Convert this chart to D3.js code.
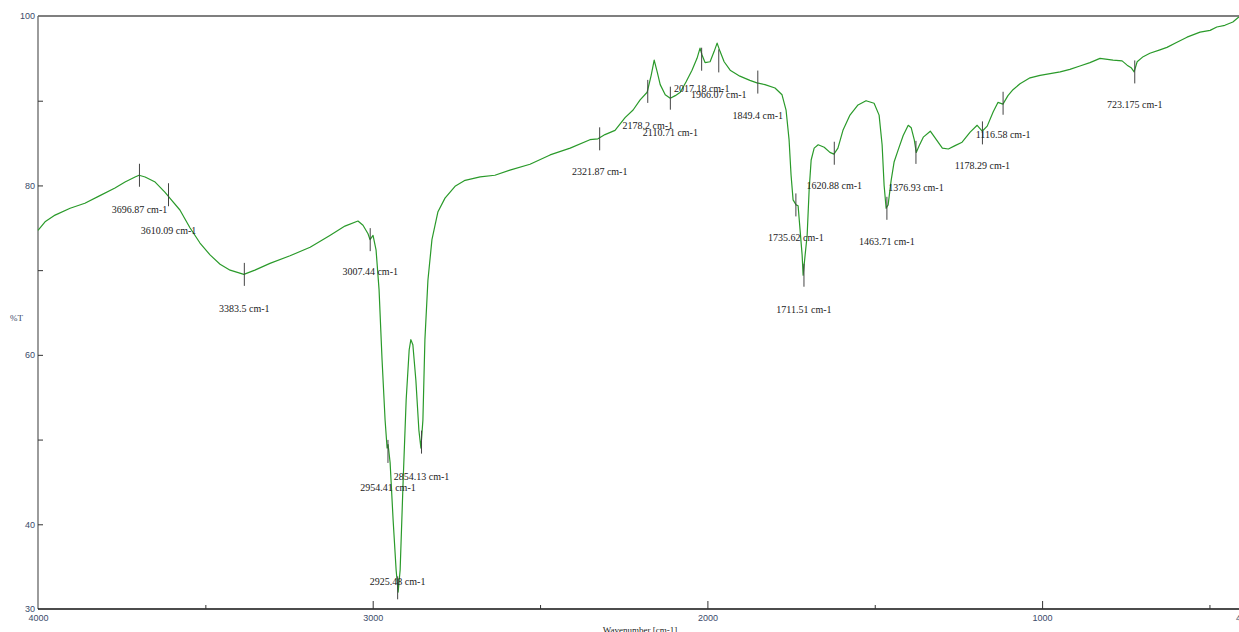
<!DOCTYPE html>
<html>
<head>
<meta charset="utf-8">
<script src="https://cdn.jsdelivr.net/npm/d3@7/dist/d3.min.js"></script>
<style>
  html, body { margin: 0; padding: 0; background: #fff; overflow: hidden; }
  svg { display: block; font-family: "Liberation Serif", "DejaVu Serif", serif; }
</style>
</head>
<body>
<svg id="chart" width="1239" height="632"></svg>
<script>
// FTIR spectrum: wavenumber (cm-1) and transmittance (%T)
const wavenumbers = [4000,3979,3949,3904,3860,3815,3770,3740,3710,3698,3680,3650,3621,3606,3576,3546,3516,3486,3456,3426,3385,3352,3307,3247,3187,3128,3083,3044,3029,3014,3008,2999,2990,2981,2972,2963,2957,2954,2948,2939,2930,2924,2918,2909,2900,2891,2886,2880,2871,2862,2856,2850,2844,2835,2823,2805,2784,2754,2724,2679,2635,2590,2530,2470,2410,2351,2327,2306,2276,2246,2222,2201,2180,2168,2159,2150,2141,2126,2111,2096,2081,2064,2046,2031,2022,2016,2007,1992,1980,1971,1962,1950,1932,1903,1873,1852,1828,1798,1777,1765,1756,1750,1744,1735,1729,1723,1717,1714,1708,1702,1696,1690,1681,1669,1651,1634,1622,1610,1595,1574,1550,1526,1502,1487,1478,1472,1466,1460,1451,1442,1430,1415,1400,1391,1382,1376,1367,1355,1334,1316,1298,1280,1260,1239,1215,1194,1179,1164,1146,1132,1117,1102,1087,1066,1036,1006,976,946,917,887,857,827,788,761,746,734,725,716,698,678,648,627,597,567,528,498,478,454,430,415,406];
const transmittance = [74.7,75.7,76.5,77.3,77.9,78.8,79.7,80.4,81.0,81.2,81.0,80.4,79.2,78.5,77.1,75.0,73.2,71.8,70.7,70.0,69.5,70.0,70.8,71.7,72.7,74.1,75.2,75.8,75.3,74.3,73.6,74.1,72.4,67.7,59.4,52.3,49.0,49.4,47.3,40.5,34.6,32.0,34.6,45.2,54.7,60.6,61.8,61.2,57.0,51.1,49.0,52.3,61.8,68.8,73.6,76.9,78.5,79.9,80.6,81.0,81.2,81.8,82.5,83.6,84.4,85.4,85.5,86.0,86.5,88.0,88.9,90.1,91.0,93.0,94.8,93.4,91.9,90.7,90.3,90.6,91.0,92.2,93.6,95.0,96.2,95.4,94.5,94.6,95.8,96.8,95.8,94.6,93.6,92.9,92.4,92.1,91.9,91.5,90.7,88.9,85.4,81.2,78.3,77.7,77.6,74.7,71.8,69.4,71.8,74.1,79.5,83.0,84.4,84.8,84.5,83.9,83.7,84.4,86.5,88.3,89.5,90.0,89.7,88.3,84.8,80.0,77.3,77.7,80.6,82.8,84.2,85.9,87.1,86.8,85.4,83.9,84.7,85.7,86.4,85.4,84.4,84.3,84.7,85.1,86.3,87.1,86.4,87.0,88.7,89.8,89.6,90.6,91.3,92.0,92.7,93.0,93.2,93.4,93.7,94.1,94.5,95.0,94.8,94.7,94.2,93.9,93.4,94.6,95.2,95.6,96.0,96.3,96.9,97.5,98.1,98.3,98.7,98.9,99.3,99.8,100.0];

// Picked peaks: position, %T at the pick, and %T where its label sits
const peakWavenumbers = [3696.87,3610.09,3383.5,3007.44,2954.41,2925.48,2854.13,2321.87,2178.2,2110.71,2017.18,1966.07,1849.4,1735.62,1711.51,1620.88,1463.71,1376.93,1178.29,1116.58,723.175];
const peakValues = [81.2,78.9,69.5,73.6,48.6,32.5,49.7,85.5,91.1,90.3,94.9,94.7,92.2,77.7,69.4,83.8,77.3,83.9,86.2,89.7,93.4];
const peakLabelLevels = [77.2,74.7,65.5,69.8,44.4,33.3,45.6,81.6,87.1,86.3,91.4,90.7,88.3,73.8,65.3,80.0,73.4,79.7,82.3,86.0,89.5];

// Axis ticks
const xMajorTicks = [4000,3000,2000,1000,400];
const xMinorTicks = [3500,2500,1500,500];
const yLabelTicks = [100,80,60,40,30];
const yMinorTicks = [90,70,50];

const svg = d3.select("#chart");
const plotLeft = 38, plotTop = 16, plotBottom = 609;

const x = d3.scaleLinear().domain([4000, 400]).range([plotLeft, plotLeft + 3.6 * 334.7]);
const y = d3.scaleLinear().domain([30, 100]).range([plotBottom, plotTop]);

// Frame
svg.append("line").attr("x1", plotLeft).attr("x2", 1239).attr("y1", plotTop).attr("y2", plotTop)
  .attr("stroke", "#555").attr("stroke-width", 1.3);
svg.append("line").attr("x1", plotLeft).attr("x2", plotLeft).attr("y1", plotTop).attr("y2", plotBottom)
  .attr("stroke", "#666").attr("stroke-width", 1.3);

// Bottom axis
const xAxis = d3.axisBottom(x).tickValues(xMajorTicks).tickSizeInner(-8).tickSizeOuter(0)
  .tickFormat(d3.format("d")).tickPadding(12);
const gx = svg.append("g").attr("transform", `translate(0,${plotBottom})`).call(xAxis);
gx.select(".domain").attr("stroke", "#111").attr("stroke-width", 1.5).attr("d", `M${plotLeft},0H1239`);
gx.selectAll(".tick line").attr("stroke", "#333");
gx.selectAll(".tick text").attr("fill", "#3a4a6a").attr("font-size", 9).attr("dy", 0);
gx.selectAll(".tick").filter(d => d === 4000).select("line").remove();
const gxm = svg.append("g").attr("transform", `translate(0,${plotBottom})`)
  .call(d3.axisBottom(x).tickValues(xMinorTicks).tickSizeInner(-4).tickSizeOuter(0).tickFormat(""));
gxm.select(".domain").remove();
gxm.selectAll(".tick line").attr("stroke", "#333");

// Left axis
const yAxis = d3.axisLeft(y).tickValues(yLabelTicks).tickSizeInner(-5).tickSizeOuter(0)
  .tickFormat(d3.format("d")).tickPadding(3);
const gy = svg.append("g").attr("transform", `translate(${plotLeft},0)`).call(yAxis);
gy.select(".domain").remove();
gy.selectAll(".tick line").attr("stroke", "#333");
gy.selectAll(".tick text").attr("fill", "#3a4a6a").attr("font-size", 9);
gy.selectAll(".tick").filter(d => d === 100 || d === 30).select("line").remove();
const gym = svg.append("g").attr("transform", `translate(${plotLeft},0)`)
  .call(d3.axisLeft(y).tickValues(yMinorTicks).tickSizeInner(-5).tickSizeOuter(0).tickFormat(""));
gym.select(".domain").remove();
gym.selectAll(".tick line").attr("stroke", "#333");

// Axis titles
svg.append("text").attr("x", 10).attr("y", 321).attr("font-size", 9).attr("fill", "#3a4a6a").text("%T");
svg.append("text").attr("x", 640).attr("y", 633).attr("text-anchor", "middle")
  .attr("font-size", 9).attr("fill", "#222").text("Wavenumber [cm-1]");

// Spectrum
const spectrum = wavenumbers.map((w, i) => [w, transmittance[i]]);
svg.append("path").datum(spectrum)
  .attr("fill", "none").attr("stroke", "#2a9a2a").attr("stroke-width", 1.2)
  .attr("stroke-linejoin", "round")
  .attr("d", d3.line().x(d => x(d[0])).y(d => y(d[1])));

// Peak picks and labels
const peaks = peakWavenumbers.map((w, i) => ({ w, v: peakValues[i], lab: peakLabelLevels[i] }));
const pg = svg.append("g");
pg.selectAll("line").data(peaks).join("line")
  .attr("x1", d => x(d.w)).attr("x2", d => x(d.w))
  .attr("y1", d => y(d.v) - 11.5).attr("y2", d => y(d.v) + 11.5)
  .attr("stroke", "#444").attr("stroke-width", 1);
pg.selectAll("text").data(peaks).join("text")
  .attr("x", d => x(d.w)).attr("y", d => y(d.lab))
  .attr("dy", "0.35em").attr("text-anchor", "middle")
  .attr("font-size", 10).attr("fill", "#222")
  .text(d => `${d.w} cm-1`);
</script>
</body>
</html>
